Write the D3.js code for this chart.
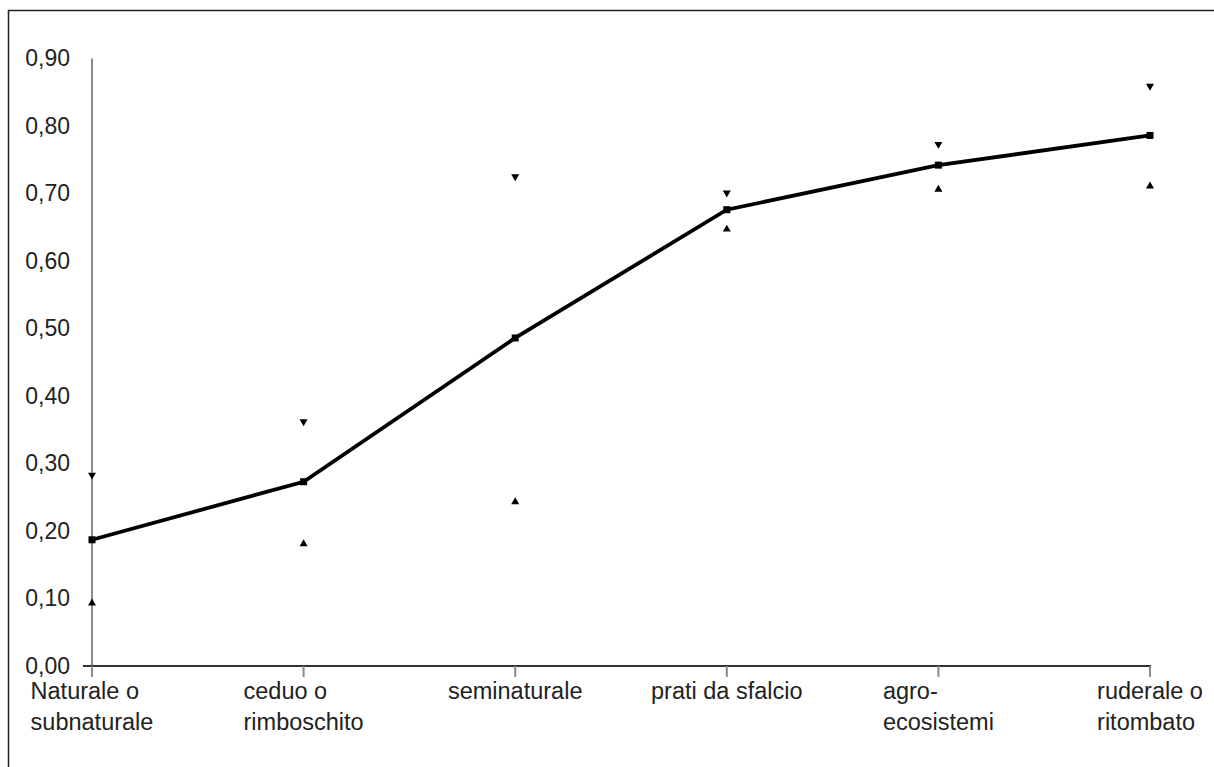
<!DOCTYPE html>
<html lang="it">
<head>
<meta charset="UTF-8">
<title>Grafico</title>
<style>
  body { margin: 0; background: #fff; }
  text { font-family: "Liberation Sans", Arial, sans-serif; fill: #222; }
</style>
</head>
<body>
<svg width="1214" height="767"></svg>
<script src="https://d3js.org/d3.v7.min.js"></script>
<script>
// categorie (una riga per elemento)
var categories = [
  ["Naturale o", "subnaturale"],
  ["ceduo o", "rimboschito"],
  ["seminaturale"],
  ["prati da sfalcio"],
  ["agro-", "ecosistemi"],
  ["ruderale o", "ritombato"]
];
var means = [0.187, 0.273, 0.486, 0.676, 0.742, 0.786];
var upper = [0.283, 0.362, 0.725, 0.701, 0.773, 0.859];
var lower = [0.093, 0.181, 0.243, 0.647, 0.706, 0.711];
var yTicks = [0, 0.1, 0.2, 0.3, 0.4, 0.5, 0.6, 0.7, 0.8, 0.9];

var svg = d3.select("svg");

// cornice
svg.append("rect")
  .attr("x", 8.5).attr("y", 10.5)
  .attr("width", 1300).attr("height", 900)
  .attr("fill", "none").attr("stroke", "#222").attr("stroke-width", 1.5);

var x = d3.scalePoint()
  .domain(d3.range(categories.length))
  .range([92, 1150]);

var y = d3.scaleLinear()
  .domain([0, 0.9])
  .range([666, 58.5]);

var fmt = function (d) { return d3.format(".2f")(d).replace(".", ","); };

// asse y
svg.append("line")
  .attr("x1", 92).attr("x2", 92)
  .attr("y1", y(0.9)).attr("y2", 677)
  .attr("stroke", "#8a8a8a").attr("stroke-width", 2);

svg.selectAll(".ylab").data(yTicks).enter().append("text")
  .attr("class", "ylab")
  .attr("x", 70)
  .attr("y", function (d) { return y(d); })
  .attr("dy", "0.34em")
  .attr("text-anchor", "end")
  .style("font-size", "23px")
  .text(fmt);

// asse x
svg.append("line")
  .attr("x1", 83).attr("x2", 1151)
  .attr("y1", y(0)).attr("y2", y(0))
  .attr("stroke", "#333").attr("stroke-width", 2);

svg.selectAll(".xtick").data(categories).enter().append("line")
  .attr("class", "xtick")
  .attr("x1", function (d, i) { return x(i); })
  .attr("x2", function (d, i) { return x(i); })
  .attr("y1", y(0)).attr("y2", 677)
  .attr("stroke", "#8a8a8a").attr("stroke-width", 2);

// etichette categorie: blocco centrato, righe allineate a sinistra
var labs = svg.selectAll(".xlab").data(categories).enter().append("text")
  .attr("class", "xlab")
  .style("font-size", "23.5px");
labs.each(function (lines, i) {
  var t = d3.select(this);
  lines.forEach(function (l, k) {
    t.append("tspan").attr("x", 0).attr("y", 699 + k * 31).text(l);
  });
  var w = this.getBBox().width;
  t.selectAll("tspan").attr("x", x(i) - w / 2);
});

// linea delle medie
var line = d3.line()
  .x(function (d, i) { return x(i); })
  .y(function (d) { return y(d); });

svg.append("path")
  .datum(means)
  .attr("d", line)
  .attr("fill", "none")
  .attr("stroke", "#000")
  .attr("stroke-width", 3.8);

svg.selectAll(".mean").data(means).enter().append("rect")
  .attr("x", function (d, i) { return x(i) - 3.5; })
  .attr("y", function (d) { return y(d) - 3.5; })
  .attr("width", 7).attr("height", 7)
  .attr("fill", "#000");

var tri = d3.symbol().type(d3.symbolTriangle).size(28);

svg.selectAll(".up").data(upper).enter().append("path")
  .attr("d", tri)
  .attr("transform", function (d, i) { return "translate(" + x(i) + "," + y(d) + ") rotate(180)"; })
  .attr("fill", "#000");

svg.selectAll(".lo").data(lower).enter().append("path")
  .attr("d", tri)
  .attr("transform", function (d, i) { return "translate(" + x(i) + "," + y(d) + ")"; })
  .attr("fill", "#000");
</script>
</body>
</html>
